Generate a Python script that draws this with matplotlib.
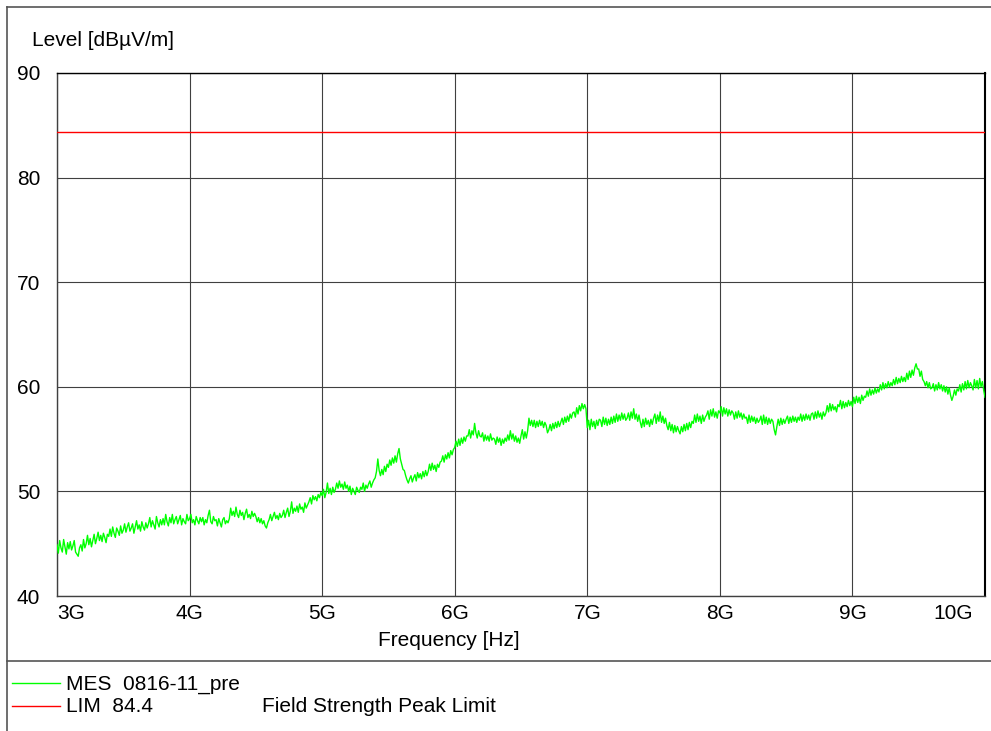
import numpy as np
import matplotlib
matplotlib.use("Agg")
import matplotlib.pyplot as plt
from matplotlib.lines import Line2D
import matplotlib.transforms as mtransforms

plt.rcParams['font.family'] = ['Liberation Sans', 'DejaVu Sans']

# Frequency grid in GHz (3.00 .. 10.00, step 0.01)
freq_start_ghz = 3.0
freq_step_ghz = 0.01

level_mes = [
    44.9, 44.1, 45.3, 44.6, 44.2, 45.4, 44.7, 44.0, 45.1, 44.5,
    45.2, 44.4, 44.8, 45.3, 44.2, 44.0, 43.8, 44.6, 44.9, 44.3,
    45.4, 44.6, 45.0, 45.8, 44.9, 45.5, 44.7, 45.3, 45.9, 45.0,
    45.5, 46.1, 45.3, 45.8, 45.2, 46.0, 45.6, 45.1, 45.9, 45.7,
    46.4, 45.7, 46.6, 46.0, 45.6, 46.5, 46.2, 45.8, 46.7, 46.0,
    46.3, 46.9, 46.1, 46.6, 47.0, 46.2, 46.5, 46.9, 46.0, 46.6,
    47.2, 46.4, 46.8, 46.2, 47.1, 46.6, 46.3, 47.0, 46.5, 46.9,
    47.5, 46.6, 47.2, 46.8, 46.4, 47.6, 47.0, 46.6, 47.3, 46.8,
    47.4, 46.8, 47.8, 47.1, 46.7, 47.5, 47.0, 47.8, 46.9, 47.3,
    47.6, 46.9, 47.3, 47.7, 46.8, 47.4, 47.1, 46.9, 47.8, 47.2,
    47.4, 47.8, 47.0, 47.3, 46.8, 47.6, 47.2, 46.9, 47.5, 47.1,
    47.5, 46.8, 47.3, 47.0, 47.7, 48.2, 47.1, 46.9, 47.6, 47.2,
    47.3, 46.7, 47.4, 47.0, 46.6, 47.3, 47.5, 46.9, 47.2, 47.0,
    47.4, 48.4, 47.7, 48.1, 47.6, 48.5, 47.8, 47.5, 48.2, 47.7,
    48.0, 47.3, 47.9, 48.3, 47.5, 47.8, 47.4, 48.1, 47.6, 47.9,
    47.6, 47.1, 47.5, 47.0, 47.4, 46.9, 47.2, 46.7, 46.5, 47.0,
    47.3, 47.8, 47.2, 47.6, 48.0, 47.4, 47.7, 47.3, 47.9, 47.5,
    47.7, 48.2, 47.5, 48.0, 48.4, 47.6, 48.1, 49.0, 47.9, 48.4,
    48.1, 48.6, 48.0, 48.8, 48.3, 48.5, 48.0, 48.9, 48.4, 48.7,
    49.0, 49.4, 48.8, 49.6, 49.2, 49.5, 49.1, 49.7, 49.4, 49.9,
    49.6, 50.2, 49.4, 49.9, 50.8, 49.8, 50.3, 49.7, 50.4, 49.9,
    50.2, 50.8, 50.3, 51.0, 50.4, 50.7, 50.2, 50.9, 50.3, 50.6,
    50.0, 50.5, 49.7, 50.3, 50.0, 49.7, 50.4, 50.1, 49.9, 50.4,
    50.2, 50.8, 50.0, 50.6, 50.3, 50.7, 51.0, 50.4, 50.8, 51.1,
    51.3, 51.9, 53.1, 52.0, 51.5, 52.1, 51.6, 52.4, 51.9, 52.6,
    52.3, 53.0, 52.5, 53.2, 52.7, 53.4, 52.8, 53.6, 54.1, 53.1,
    52.6, 52.1, 52.0, 51.5, 51.1, 50.8, 51.2, 51.5, 50.9, 51.3,
    51.6, 51.0, 51.8, 51.3, 51.7, 51.2, 51.9, 51.4, 52.0, 51.5,
    51.9, 52.6, 52.0, 52.7, 52.1, 52.5, 51.9, 52.6, 52.3, 52.8,
    52.9, 53.4, 52.8, 53.5, 53.1, 53.7, 53.2, 53.9, 53.5, 54.0,
    54.2, 54.8, 54.3, 55.0, 54.4, 55.1, 54.6, 55.2, 54.8, 55.3,
    55.3, 55.9, 55.1, 55.8, 55.4, 56.5, 55.6, 55.1, 55.8, 55.3,
    55.2, 55.6, 54.8, 55.4, 54.9, 55.3, 54.8, 55.5, 54.9, 55.1,
    55.0, 54.5, 55.2, 54.7, 55.1, 54.4, 55.0, 54.6, 55.1, 54.8,
    55.4, 54.9, 55.8, 55.0, 55.5, 54.8, 55.3, 54.7, 55.1, 54.6,
    55.3, 55.9, 55.0, 55.7, 55.1, 55.8, 57.0, 56.3, 56.8, 56.2,
    56.8, 56.1, 56.7, 56.2, 56.8, 56.3, 56.7, 56.1, 56.6, 56.3,
    55.6, 55.9, 56.4, 55.8, 56.5, 56.0, 56.6, 56.1, 56.7, 56.2,
    56.6, 57.0, 56.4, 57.1, 56.6, 57.2, 56.7, 57.4, 57.0, 57.5,
    57.6, 57.1, 58.0, 57.4, 58.2, 57.7, 58.4, 57.9, 58.3, 57.9,
    56.1, 56.8, 55.9, 56.9, 56.2, 56.7, 56.0, 56.8, 56.3, 56.9,
    56.8, 56.2, 57.1, 56.4, 57.0, 56.3, 56.9, 56.4, 57.1, 56.5,
    57.2, 56.6, 57.4, 56.7, 57.3, 56.8, 57.5, 56.9, 57.4, 56.8,
    57.0, 57.5, 56.8, 57.6, 57.0, 57.9, 56.9, 57.4, 56.7, 57.3,
    56.6, 56.1, 56.9, 56.2, 57.0, 56.4, 56.8, 56.2, 56.9, 56.4,
    57.0, 57.4, 56.5, 57.3, 56.7, 57.6, 56.6, 57.2, 56.5, 57.0,
    56.3, 55.9, 56.6, 55.8, 56.4, 55.6, 56.3, 55.7, 56.2, 55.8,
    55.5, 56.2, 55.7, 56.4, 55.8, 56.5, 55.9, 56.6, 56.1, 56.7,
    56.5, 57.3, 56.6, 57.4, 56.7, 57.2, 56.5, 57.3, 56.7, 57.1,
    57.3, 57.7, 56.9, 57.8, 57.2, 57.9, 57.1, 57.6, 57.0, 57.7,
    57.5, 58.1, 57.2, 58.0, 57.4, 57.9, 57.2, 57.8, 57.3, 57.7,
    57.5, 56.9, 57.6, 57.0, 57.7, 57.1, 57.5, 56.9, 57.4, 57.0,
    57.1, 56.5, 57.3, 56.6, 57.2, 56.7, 57.1, 56.5, 57.0, 56.6,
    56.8, 57.2, 56.4, 57.3, 56.5, 57.1, 56.4, 57.0, 56.5, 56.9,
    56.7, 55.9, 55.4, 56.2, 56.9, 56.3, 57.0, 56.4, 56.9, 56.5,
    56.9, 57.2, 56.5, 57.1, 56.6, 57.2, 56.7, 57.1, 56.6, 57.1,
    56.8, 57.4, 56.7, 57.3, 56.8, 57.4, 56.9, 57.3, 56.8, 57.4,
    57.5, 56.9, 57.6, 57.0, 57.7, 57.1, 57.5, 56.9, 57.6, 57.2,
    57.5, 58.2, 57.6, 58.4, 57.7, 58.3, 57.8, 58.1, 57.6, 58.3,
    58.1, 58.7, 57.9, 58.6, 58.0, 58.5, 58.1, 58.7, 58.2, 58.6,
    58.1, 59.0, 58.4, 59.1, 58.5, 59.0, 58.4, 59.2, 58.7, 59.1,
    59.0, 59.6, 59.1, 59.8, 59.2, 59.7, 59.3, 59.9, 59.4, 59.8,
    59.5, 60.2, 59.7, 60.4, 59.8, 60.3, 59.9, 60.5, 60.0, 60.4,
    60.1, 60.7, 60.2, 60.9, 60.3, 60.8, 60.4, 61.0, 60.5, 60.9,
    60.5, 61.3, 60.7, 61.5, 60.9, 61.6, 61.1, 61.8, 62.2, 61.7,
    61.7, 61.0, 61.5, 60.7, 60.5, 60.1, 60.5, 59.9, 60.4, 59.8,
    59.9, 60.3, 59.6, 60.2, 59.7, 60.4, 59.8, 60.2, 59.6, 60.1,
    59.5, 60.0, 59.3, 59.9, 59.2, 58.7, 59.1, 59.7, 59.2, 59.8,
    59.6, 60.2, 59.5, 60.3, 59.7, 60.5, 59.8, 60.6, 59.9, 60.4,
    60.1, 59.7, 60.7, 59.9, 60.6, 59.8, 60.8, 60.0, 60.5, 59.7,
    59.0,
]

limit_level = 84.4
x_ticks = [3, 4, 5, 6, 7, 8, 9, 10]
x_tick_labels = ["3G", "4G", "5G", "6G", "7G", "8G", "9G", "10G"]
y_ticks = [40, 50, 60, 70, 80, 90]

freqs = freq_start_ghz + freq_step_ghz * np.arange(len(level_mes))

FS = 15
W, H = 991, 731
fig = plt.figure(figsize=(W / 100, H / 100), dpi=100)
ax = fig.add_axes([57 / W, (H - 596) / H, 928 / W, 523 / H])

ax.plot(freqs, level_mes, color="#00ff00", lw=1.0, zorder=3)
ax.axhline(limit_level, color="#ff0000", lw=1.0, zorder=3)

ax.set_xlim(3, 10)
ax.set_ylim(40, 90)
ax.set_xticks(x_ticks)
ax.set_xticklabels([])
ax.set_yticks(y_ticks)
ax.tick_params(axis="both", length=0)
ax.tick_params(axis="y", labelsize=FS, pad=12)
ax.grid(True, color="#404040", lw=0.8)
for s in ax.spines.values():
    s.set_color("#404040")
    s.set_linewidth(1.0)
ax.spines["right"].set_color("black")
ax.spines["right"].set_linewidth(1.5)
ax.spines["top"].set_color("black")

trans = mtransforms.blended_transform_factory(ax.transData, ax.transAxes)
for i, (t, lab) in enumerate(zip(x_ticks, x_tick_labels)):
    if i == 0:
        ax.text(t, -0.015, lab, transform=trans, ha="left", va="top", fontsize=FS)
    elif i == len(x_ticks) - 1:
        off = mtransforms.offset_copy(trans, fig=fig, x=-12, y=0, units="dots")
        ax.text(t, -0.015, lab, transform=off, ha="right", va="top", fontsize=FS)
    else:
        ax.text(t, -0.015, lab, transform=trans, ha="center", va="top", fontsize=FS)

fig.text(449 / W, 1 - 640 / H, "Frequency [Hz]", ha="center", va="center", fontsize=FS)
fig.text(32 / W, 1 - 41 / H, "Level [dBµV/m]", ha="left", va="center", fontsize=FS)

# frame lines
border_color = "#555555"
fig.add_artist(Line2D([7 / W, 1], [1 - 7 / H, 1 - 7 / H], transform=fig.transFigure, color=border_color, lw=1.2))
fig.add_artist(Line2D([7 / W, 7 / W], [0, 1 - 7 / H], transform=fig.transFigure, color=border_color, lw=1.2))
fig.add_artist(Line2D([7 / W, 1], [1 - 661 / H, 1 - 661 / H], transform=fig.transFigure, color=border_color, lw=1.2))

# legend
fig.add_artist(Line2D([12 / W, 60 / W], [1 - 683 / H, 1 - 683 / H], transform=fig.transFigure, color="#00ff00", lw=1.0))
fig.add_artist(Line2D([12 / W, 60 / W], [1 - 706 / H, 1 - 706 / H], transform=fig.transFigure, color="#ff0000", lw=1.0))
fig.text(66 / W, 1 - 685 / H, "MES  0816-11_pre", ha="left", va="center", fontsize=FS)
fig.text(66 / W, 1 - 707 / H, "LIM  84.4", ha="left", va="center", fontsize=FS)
fig.text(262 / W, 1 - 707 / H, "Field Strength Peak Limit", ha="left", va="center", fontsize=FS)

fig.savefig("out.png", dpi=100)
